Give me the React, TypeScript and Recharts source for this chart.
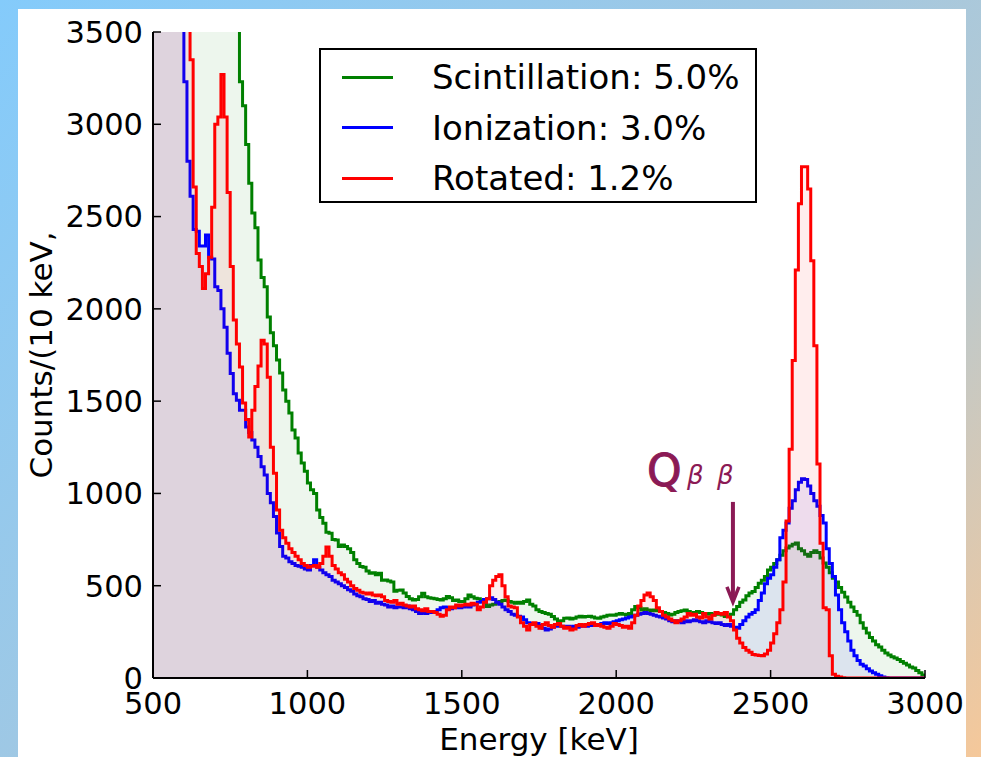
import React from 'react';
import { ComposedChart, Area, XAxis, YAxis, Legend, ReferenceLine } from 'recharts';

// histogram bins: 10 keV wide, lower edges from 500 keV
const binStart = 500;
const binWidth = 10;

const scintillation = [
  14000, 13200, 12400, 11700, 11000, 10400, 9800, 9200, 8700, 8200,
  7700, 7300, 6900, 6500, 6100, 5800, 5500, 5200, 4900, 4700,
  4500, 4350, 4200, 4080, 3960, 3850, 3750, 3620, 3230, 3100,
  2890, 2680, 2520, 2440, 2265, 2170, 2120, 1956, 1870, 1800,
  1723, 1652, 1560, 1500, 1436, 1344, 1300, 1219, 1165, 1120,
  1057, 1020, 1000, 910, 870, 838, 790, 784, 750, 748,
  712, 720, 712, 700, 680, 640, 620, 604, 600, 580,
  567, 570, 560, 567, 530, 531, 525, 520, 470, 475,
  477, 460, 441, 430, 423, 425, 440, 459, 440, 435,
  432, 430, 425, 423, 430, 441, 435, 420, 423, 415,
  414, 430, 450, 440, 432, 430, 420, 410, 387, 395,
  400, 405, 415, 420, 423, 415, 410, 405, 410, 405,
  415, 423, 400, 390, 370, 360, 355, 350, 345, 333,
  320, 306, 310, 324, 325, 320, 324, 330, 335, 330,
  333, 335, 330, 325, 324, 330, 335, 340, 342, 340,
  345, 350, 345, 342, 350, 370, 387, 380, 369, 375,
  369, 365, 369, 365, 360, 355, 350, 342, 345, 355,
  360, 365, 369, 360, 350, 355, 360, 355, 350, 345,
  350, 342, 345, 350, 342, 333, 335, 345, 370, 387,
  410, 423, 445, 460, 468, 490, 514, 530, 550, 585,
  600, 620, 640, 665, 690, 704, 715, 725, 731, 700,
  690, 670, 660, 680, 690, 680, 650, 623, 600, 570,
  540, 520, 490, 465, 439, 410, 385, 360, 340, 300,
  270, 244, 220, 200, 180, 168, 150, 135, 125, 115,
  108, 100, 90, 80, 70, 60, 54, 40, 28, 16,
];

const ionization = [
  9800, 9000, 8300, 7600, 7000, 6400, 5800, 5200, 4600, 4000,
  3230, 2800, 2610, 2430, 2420, 2340, 2340, 2400, 2280, 2270,
  2120, 2100, 2000, 1900, 1760, 1650, 1540, 1505, 1450, 1450,
  1360, 1330, 1290, 1250, 1200, 1145, 1100, 1000, 950, 875,
  785, 712, 660, 650, 630, 620, 610, 605, 600, 590,
  585, 610, 640, 600, 585, 570, 560, 550, 530, 520,
  510, 500, 490, 478, 470, 455, 445, 440, 430, 425,
  415, 420, 405, 410, 400, 395, 385, 390, 380, 385,
  385, 380, 390, 375, 370, 360, 350, 355, 350, 360,
  355, 360, 370, 380, 385, 380, 375, 380, 385, 380,
  385, 390, 385, 395, 400, 410, 415, 425, 430, 435,
  425, 410, 400, 385, 370, 360, 345, 340, 335, 330,
  315, 300, 295, 290, 295, 285, 270, 260, 265, 275,
  280, 285, 280, 275, 280, 275, 280, 275, 280, 285,
  280, 285, 290, 285, 290, 295, 300, 295, 300, 305,
  310, 315, 320, 325, 330, 335, 340, 345, 350, 355,
  350, 345, 340, 335, 330, 325, 320, 310, 305, 310,
  305, 300, 310, 305, 310, 315, 310, 305, 300, 310,
  305, 300, 295, 300, 290, 285, 290, 280, 275, 270,
  290, 310, 330, 345, 355, 370, 420, 460, 510, 540,
  560, 600, 640, 760, 800, 840, 920, 960, 1020, 1060,
  1080, 1075, 1040, 1000, 960, 930, 880, 840, 700, 620,
  550, 450, 370, 300, 250, 200, 150, 120, 95, 75,
  65, 50, 38, 28, 20, 12, 6, 2, 0, 0,
  0, 0, 0, 0, 0, 0, 0, 0, 0, 0,
];

const rotated = [
  9500, 8800, 8100, 7400, 6800, 6200, 5600, 5100, 4700, 4300,
  3900, 3600, 3350, 2660, 2300, 2230, 2110, 2190, 2280, 2550,
  3000, 3040, 3270, 3040, 2630, 2230, 1940, 1810, 1685, 1490,
  1400, 1306, 1450, 1580, 1690, 1830, 1810, 1630, 1250, 1110,
  910, 800, 760, 730, 700, 680, 660, 640, 620, 610,
  600, 605, 610, 600, 620, 660, 710, 660, 610, 590,
  570, 560, 535, 520, 500, 485, 475, 465, 460, 455,
  460, 450, 445, 450, 440, 420, 415, 410, 420, 400,
  405, 395, 390, 385, 390, 375, 370, 365, 375, 360,
  360, 355, 345, 335, 340, 370, 385, 380, 395, 390,
  395, 400, 395, 405, 400, 370, 385, 410, 430, 500,
  530, 550, 560, 500, 440, 390, 385, 380, 330, 300,
  280, 260, 290, 300, 280, 270, 290, 300, 285, 275,
  290, 295, 280, 270, 275, 260, 265, 285, 290, 280,
  290, 295, 300, 285, 290, 280, 275, 270, 280, 295,
  290, 285, 275, 280, 270, 300, 340, 390, 420, 450,
  460, 440, 420, 380, 360, 340, 330, 320, 310, 300,
  310, 320, 330, 350, 340, 345, 330, 325, 350, 330,
  320, 340, 355, 350, 345, 355, 330, 310, 260, 215,
  190, 165, 150, 140, 128, 125, 122, 120, 130, 150,
  190, 240, 300, 370, 520, 850, 1240, 1720, 2210, 2570,
  2770, 2770, 2650, 2260, 1800, 1160, 730, 380, 370, 120,
  20, 10, 5, 2, 0, 0, 0, 0, 0, 0,
  0, 0, 0, 0, 0, 0, 0, 0, 0, 0,
  0, 0, 0, 0, 0, 0, 0, 0, 0, 0,
];

const xTicks = [500, 1000, 1500, 2000, 2500, 3000];
const yTicks = [0, 500, 1000, 1500, 2000, 2500, 3000, 3500];

// Q-value marker (keV) and arrow span in counts
const qbbEnergy = 2378;
const qbbArrow = [954, 412];

const series = [
  { key: 'scint', name: 'Scintillation: 5.0%', color: '#008000' },
  { key: 'ion', name: 'Ionization: 3.0%', color: '#0000ff' },
  { key: 'rot', name: 'Rotated: 1.2%', color: '#ff0000' },
];

const rows = scintillation.map((_, i) => ({
  e: binStart + i * binWidth,
  scint: scintillation[i],
  ion: ionization[i],
  rot: rotated[i],
}));
// close the last bin at 3000 keV
rows.push({ ...rows[rows.length - 1], e: binStart + rows.length * binWidth });

const FONT = '"DejaVu Sans", sans-serif';
const QCOLOR = '#8b1a55';

const seriesOrder = (entry: any) => series.findIndex((s) => s.key === entry.dataKey);

const LegendBox: React.FC<any> = ({ payload }) => {
  const items = [...(payload || [])].sort((a, b) => seriesOrder(a) - seriesOrder(b));
  return (
    <div
      style={{
        position: 'relative',
        width: 438,
        height: 155,
        border: '2px solid #000',
        boxSizing: 'border-box',
        background: '#fff',
        fontFamily: FONT,
        fontSize: 34,
        color: '#000',
      }}
    >
      {items.map((entry: any, i: number) => (
        <div
          key={entry.value}
          style={{ position: 'absolute', left: 0, top: 2 + i * 50.5, height: 50, width: '100%', display: 'flex', alignItems: 'center' }}
        >
          <div style={{ marginLeft: 21, width: 51, height: 3, background: entry.color }} />
          <span style={{ marginLeft: 39, lineHeight: '50px' }}>{entry.value}</span>
        </div>
      ))}
    </div>
  );
};

const YLabel: React.FC<any> = ({ viewBox }) => {
  const x = viewBox.x - 31;
  const cy = viewBox.y + viewBox.height / 2;
  return (
    <text x={x} y={cy} transform={`rotate(-90 ${x} ${cy})`} textAnchor="middle" fontSize={31} fill="#000" fontFamily={FONT}>
      Counts/(10 keV,
    </text>
  );
};

const QArrow: React.FC<any> = ({ x1, y1, y2 }) => {
  const top = Math.min(y1, y2);
  const tip = Math.max(y1, y2);
  return (
    <g>
      <line x1={x1} y1={top} x2={x1} y2={tip - 3} stroke={QCOLOR} strokeWidth={4} />
      <polyline points={`${x1 - 6},${tip - 15} ${x1},${tip} ${x1 + 6},${tip - 15}`} fill="none" stroke={QCOLOR} strokeWidth={3.5} />
      <text x={x1 - 86} y={top - 16} fontSize={44} fill={QCOLOR} fontFamily={FONT} stroke={QCOLOR} strokeWidth={1}>Q</text>
      <text x={x1 - 46} y={top - 18} fontSize={26} fontStyle="italic" fill={QCOLOR} fontFamily={FONT}>β</text>
      <text x={x1 - 16} y={top - 18} fontSize={26} fontStyle="italic" fill={QCOLOR} fontFamily={FONT}>β</text>
    </g>
  );
};

const tickStyle = { fill: '#000', fontSize: 30.5, fontFamily: FONT };

export default function App() {
  return (
    <div
      style={{
        position: 'absolute',
        left: 0,
        top: 0,
        width: 981,
        height: 757,
        overflow: 'hidden',
        background: 'linear-gradient(135deg, #84cbfb 0%, #9fc8e4 45%, #b9c9cf 70%, #f5c89a 100%)',
      }}
    >
      <div style={{ position: 'absolute', left: 18, top: 9, width: 948, height: 760, background: '#fff' }} />
      <div style={{ position: 'absolute', left: 0, top: 0 }}>
        <ComposedChart
          width={981}
          height={757}
          data={rows}
          margin={{ top: 32, right: 56, left: 83, bottom: 0 }}
          style={{ fontFamily: FONT }}
        >
          <XAxis
            dataKey="e"
            type="number"
            domain={[500, 3000]}
            ticks={xTicks}
            interval={0}
            allowDataOverflow
            height={79}
            tick={tickStyle}
            tickSize={-8}
            tickMargin={22}
            axisLine={{ stroke: '#000', strokeWidth: 2 }}
            tickLine={{ stroke: '#000', strokeWidth: 1.5 }}
            label={{ value: 'Energy [keV]', position: 'insideBottom', offset: 7, fontSize: 31, fill: '#000' }}
          />
          <XAxis
            xAxisId="top"
            orientation="top"
            type="number"
            domain={[500, 3000]}
            ticks={xTicks}
            interval={0}
            allowDataOverflow
            height={0}
            tick={false}
            tickSize={-8}
            axisLine={{ stroke: '#000', strokeWidth: 2 }}
            tickLine={{ stroke: '#000', strokeWidth: 1.5 }}
          />
          <YAxis
            type="number"
            domain={[0, 3500]}
            ticks={yTicks}
            interval={0}
            allowDataOverflow
            width={70}
            tick={tickStyle}
            tickSize={-8}
            tickMargin={18}
            axisLine={{ stroke: '#000', strokeWidth: 2 }}
            tickLine={{ stroke: '#000', strokeWidth: 1.5 }}
            label={<YLabel />}
          />
          <YAxis
            yAxisId="right"
            orientation="right"
            type="number"
            domain={[0, 3500]}
            ticks={yTicks}
            interval={0}
            allowDataOverflow
            width={0}
            tick={false}
            tickSize={-8}
            axisLine={{ stroke: '#000', strokeWidth: 2 }}
            tickLine={{ stroke: '#000', strokeWidth: 1.5 }}
          />
          {series.map((s) => (
            <Area
              key={s.key}
              dataKey={s.key}
              name={s.name}
              type="stepAfter"
              stroke={s.color}
              strokeWidth={3}
              fill={s.color}
              fillOpacity={0.07}
              dot={false}
              activeDot={false}
              isAnimationActive={false}
            />
          ))}
          <ReferenceLine
            segment={[
              { x: qbbEnergy, y: qbbArrow[0] },
              { x: qbbEnergy, y: qbbArrow[1] },
            ]}
            shape={(p: any) => <QArrow {...p} />}
          />
          <Legend
            layout="vertical"
            align="center"
            verticalAlign="middle"
            content={<LegendBox />}
            wrapperStyle={{ left: 319, top: 48, width: 438, height: 155 }}
          />
        </ComposedChart>
      </div>
    </div>
  );
}
